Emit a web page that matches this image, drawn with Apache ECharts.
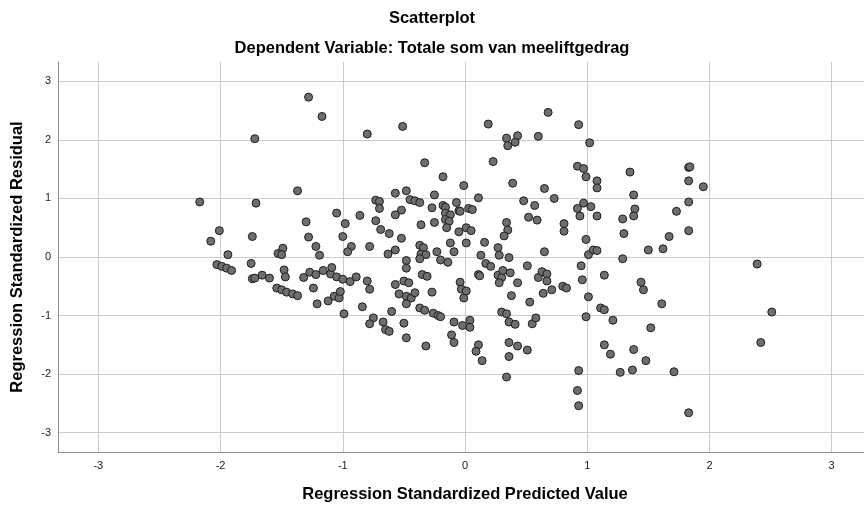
<!DOCTYPE html>
<html>
<head>
<meta charset="utf-8">
<script src="https://cdn.jsdelivr.net/npm/echarts@6/dist/echarts.min.js"></script>
<style>
html,body{margin:0;padding:0;background:#fff;}
#chart{width:864px;height:506px;}
</style>
</head>
<body>
<div id="chart"></div>
<script>
const chartTitle = 'Scatterplot';
const chartSubtitle = 'Dependent Variable: Totale som van meeliftgedrag';
const xAxisTitle = 'Regression Standardized Predicted Value';
const yAxisTitle = 'Regression Standardized Residual';
const xTicks = [-3, -2, -1, 0, 1, 2, 3];
const yTicks = [-3, -2, -1, 0, 1, 2, 3];

// Regression standardized predicted values
const predicted = [
 -1.72,-2.17,-1.71,-2.01,-2.08,-1.74,-1.94,
 -1.28,-1.17,-0.80,-0.51,-0.33,-0.18,-0.01,-1.37,-0.57,-0.48,-0.25,-0.73,-0.70,-0.45,-0.41,-0.37,-0.07,-0.70,-0.52,-0.57,-0.27,-0.18,-0.16,-0.05,-0.16,-0.12,-0.16,-0.13,-1.05,-0.86,-0.73,-1.30,-0.98,-0.36,-0.25,-0.15,-0.05,-0.69,-0.62,-1.28,-1.00,-0.52,-0.12,-1.49,-1.53,-1.50,-1.22,-1.19,-0.93,-0.96,-0.78,-0.57,-0.63,-0.37,-0.34,-0.36,-0.32,-0.23,-0.09,
 0.68,0.19,0.93,0.34,0.43,0.41,0.35,0.60,1.02,0.23,1.35,0.39,0.92,0.97,0.99,1.08,1.08,0.11,0.65,0.73,0.48,0.57,0.52,0.59,0.34,0.35,0.32,1.38,1.39,1.38,1.29,1.30,0.97,0.92,1.03,0.94,1.08,0.81,0.81,-0.04,0.03,0.06,0.01,0.05,0.01,0.16,0.27,0.13,0.28,0.36,0.65,0.99,1.01,1.05,1.08,1.29,1.50,1.62,
 1.83,1.84,1.83,1.95,1.83,1.73,1.83,1.67,
 -2.03,-1.99,-1.95,-1.91,-1.75,-1.74,-1.72,-1.66,
 -0.48,-0.48,-0.37,-0.20,-0.14,-1.60,-1.48,-1.47,-1.54,-1.50,-1.46,-1.41,-1.37,-1.32,-1.27,-1.22,-1.24,-1.21,-1.16,-1.10,-1.09,-1.05,-1.00,-0.94,-0.89,-1.12,-1.07,-1.03,-1.02,-0.99,-0.84,-0.80,-0.78,-0.75,-0.78,-0.67,-0.65,-0.62,-0.60,-0.57,-0.50,-0.46,-0.54,-0.48,-0.44,-0.41,-0.48,-0.50,-0.48,-0.37,-0.33,-0.35,-0.31,-0.27,-0.26,-0.22,-0.20,-0.32,-0.09,-0.02,-0.11,-0.09,-0.04,-0.03,-0.01,
 0.17,0.21,0.11,0.12,0.01,0.27,0.30,0.28,0.31,0.37,0.43,0.38,0.51,0.60,0.63,0.67,0.67,0.64,0.71,0.80,0.83,0.53,0.30,0.34,0.36,0.41,0.55,0.58,0.04,0.04,0.11,0.09,0.14,0.36,0.43,0.51,0.36,0.34,0.95,0.96,1.01,1.14,1.11,1.14,0.99,1.21,1.44,1.46,1.61,1.52,1.14,1.19,1.38,1.48,1.27,1.37,0.93,0.92,0.93,
 2.39,2.51,2.42,1.71,1.83
];

// Regression standardized residuals
const residual = [
 2.02,0.94,0.92,0.45,0.27,0.35,0.04,
 2.73,2.40,2.10,2.23,1.61,1.37,1.22,1.13,1.09,1.13,1.06,0.97,0.95,0.98,0.96,0.93,0.93,0.83,0.80,0.72,0.84,0.88,0.85,0.79,0.75,0.72,0.64,0.61,0.75,0.71,0.62,0.60,0.57,0.55,0.59,0.50,0.43,0.47,0.40,0.34,0.35,0.32,0.24,0.15,0.06,0.04,0.18,0.03,0.18,0.09,0.18,0.12,0.05,0.20,0.16,0.05,0.04,0.09,0.09,
 2.47,2.27,2.26,2.03,2.07,1.96,1.90,2.06,1.95,1.63,1.45,1.26,1.55,1.51,1.37,1.30,1.18,1.01,1.17,1.00,0.96,0.88,0.68,0.63,0.59,0.46,0.36,1.06,0.82,0.70,0.65,0.40,0.92,0.83,0.86,0.70,0.70,0.57,0.44,0.78,0.83,0.81,0.50,0.45,0.24,0.25,0.16,0.03,0.03,-0.01,0.09,0.30,0.04,0.12,0.11,-0.03,0.12,0.14,
 1.53,1.54,1.30,1.20,0.94,0.78,0.45,0.35,
 -0.13,-0.16,-0.19,-0.23,-0.11,-0.37,-0.36,-0.31,
 -0.06,-0.19,-0.03,-0.05,-0.09,-0.36,-0.22,-0.34,-0.53,-0.56,-0.60,-0.63,-0.66,-0.35,-0.26,-0.30,-0.53,-0.80,-0.23,-0.29,-0.18,-0.34,-0.38,-0.42,-0.34,-0.75,-0.67,-0.70,-0.59,-0.97,-0.85,-0.41,-0.55,-1.04,-1.14,-1.11,-1.24,-1.27,-0.93,-0.47,-0.41,-0.44,-0.63,-0.67,-0.70,-0.61,-0.80,-1.13,-1.38,-0.87,-0.91,-0.30,-0.33,-0.60,-0.96,-1.00,-1.02,-1.52,-1.11,-1.17,-1.33,-1.46,-0.43,-0.55,-0.70,
 -0.11,-0.16,-0.30,-0.32,-0.58,-0.31,-0.35,-0.44,-0.23,-0.27,-0.44,-0.66,-0.15,-0.35,-0.25,-0.29,-0.41,-0.62,-0.56,-0.50,-0.53,-0.77,-0.94,-0.97,-1.11,-1.15,-1.14,-1.04,-1.08,-1.20,-1.50,-1.61,-1.77,-1.46,-1.52,-1.59,-1.70,-2.05,-0.15,-0.39,-0.68,-0.31,-0.87,-0.90,-1.02,-1.08,-0.43,-0.56,-0.80,-1.21,-1.50,-1.66,-1.58,-1.77,-1.97,-1.93,-1.94,-2.28,-2.54,
 -0.12,-0.94,-1.46,-1.96,-2.66
];

const points = predicted.map((x, i) => [x, residual[i]]);

const FONT = '"Liberation Sans", Arial, sans-serif';
const TITLE_SIZE = 16.5;
const chart = echarts.init(document.getElementById('chart'), null, {renderer: 'canvas'});
chart.setOption({
  animation: false,
  backgroundColor: '#ffffff',
  title: [
    {text: chartTitle, left: 'center', top: 5,
     textStyle: {fontFamily: FONT, fontSize: TITLE_SIZE, fontWeight: 'bold', color: '#000'}},
    {text: chartSubtitle, left: 'center', top: 35,
     textStyle: {fontFamily: FONT, fontSize: TITLE_SIZE, fontWeight: 'bold', color: '#000'}}
  ],
  grid: {left: 58, top: 62, width: 814, height: 390, containLabel: false, outerBoundsMode: 'none'},
  xAxis: {
    type: 'value', min: -3.33, max: 3.33,
    name: xAxisTitle, nameLocation: 'middle', nameGap: 34,
    nameTextStyle: {fontFamily: FONT, fontSize: TITLE_SIZE, fontWeight: 'bold', color: '#000'},
    axisLine: {show: true, onZero: false, lineStyle: {color: '#8c8c8c', width: 1}},
    axisTick: {show: false, customValues: xTicks},
    axisLabel: {customValues: xTicks, margin: 8, fontFamily: FONT, fontSize: 11, color: '#222',
                formatter: v => String(Math.round(v))},
    splitLine: {show: true, lineStyle: {color: '#cccccc', width: 1}}
  },
  yAxis: {
    type: 'value', min: -3.33, max: 3.33,
    name: yAxisTitle, nameLocation: 'middle', nameGap: 32,
    nameTextStyle: {fontFamily: FONT, fontSize: TITLE_SIZE, fontWeight: 'bold', color: '#000'},
    axisLine: {show: true, onZero: false, lineStyle: {color: '#8c8c8c', width: 1}},
    axisTick: {show: false, customValues: yTicks},
    axisLabel: {customValues: yTicks, margin: 7, fontFamily: FONT, fontSize: 11, color: '#222',
                formatter: v => String(Math.round(v))},
    splitLine: {show: true, lineStyle: {color: '#cccccc', width: 1}}
  },
  series: [{
    type: 'scatter',
    data: points,
    symbol: 'circle',
    symbolSize: 8,
    itemStyle: {color: '#6e6e6e', borderColor: '#1e1e1e', borderWidth: 1, opacity: 1}
  }]
});
</script>
</body>
</html>
